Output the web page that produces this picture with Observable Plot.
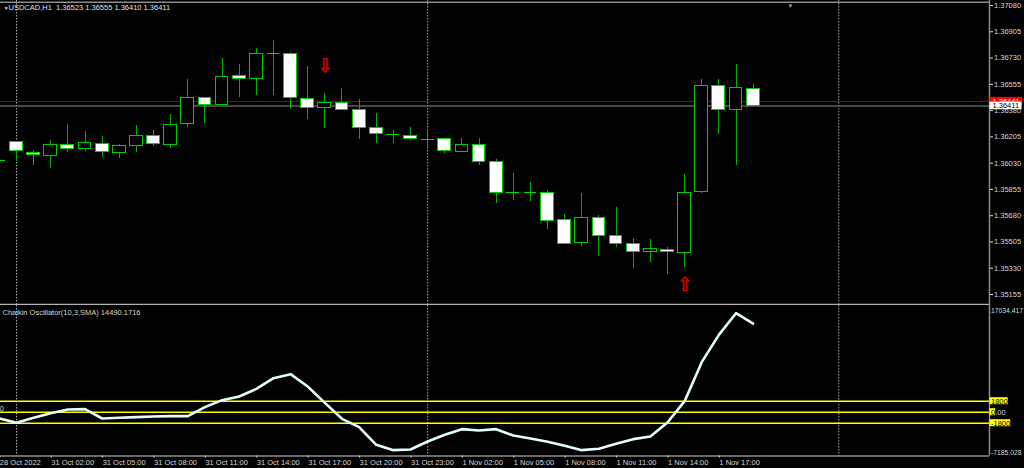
<!DOCTYPE html>
<html><head><meta charset="utf-8">
<script src="https://cdn.jsdelivr.net/npm/d3@7"></script>
<script src="https://cdn.jsdelivr.net/npm/@observablehq/plot@0.6"></script>
<style>
html,body{margin:0;padding:0;background:#000;}
#chart{position:relative;width:1024px;height:468px;background:#000;overflow:hidden;}
#chart svg{position:absolute;left:0;}
</style></head><body><div id="chart"></div>
<script>
// ---------- DATA ----------
const symbol = "USDCAD,H1";
// bar index: hours since 31 Oct 2022 00:00 (-1 = last bar of 28 Oct)
const bars = [-1,0,1,2,3,4,5,6,7,8,9,10,11,12,13,14,15,16,17,18,19,20,21,22,23,24,25,26,27,28,29,30,31,32,33,34,35,36,37,38,39,40,41,42,43];
const open  = [1.36048,1.36170,1.36099,1.36080,1.36153,1.36123,1.36159,1.36097,1.36143,1.36213,1.36148,1.36292,1.36466,1.36416,1.36612,1.36589,1.36758,1.36758,1.36459,1.36399,1.36432,1.36386,1.36263,1.36223,1.36213,1.36186,1.36193,1.36106,1.36153,1.36037,1.35833,1.35833,1.35833,1.35654,1.35500,1.35664,1.35547,1.35494,1.35441,1.35451,1.35434,1.35837,1.36545,1.36386,1.36523];
const high  = [1.36055,1.36172,1.36115,1.36179,1.36290,1.36241,1.36208,1.36155,1.36279,1.36248,1.36354,1.36585,1.36467,1.36725,1.36689,1.36796,1.36849,1.36765,1.36674,1.36492,1.36529,1.36454,1.36361,1.36248,1.36270,1.36253,1.36197,1.36193,1.36195,1.36053,1.35964,1.35900,1.35849,1.35689,1.35827,1.35680,1.35735,1.35527,1.35521,1.35467,1.35955,1.36585,1.36585,1.36685,1.36555];
const low   = [1.36040,1.36042,1.36015,1.35997,1.36099,1.36108,1.36070,1.36064,1.36103,1.36143,1.36130,1.36270,1.36292,1.36414,1.36469,1.36481,1.36481,1.36386,1.36321,1.36263,1.36384,1.36186,1.36159,1.36163,1.36181,1.36130,1.36097,1.36099,1.36017,1.35764,1.35782,1.35775,1.35589,1.35489,1.35478,1.35405,1.35465,1.35328,1.35365,1.35288,1.35332,1.35831,1.36221,1.36015,1.36410];
const close = [1.36048,1.36108,1.36082,1.36153,1.36126,1.36166,1.36101,1.36146,1.36208,1.36155,1.36286,1.36466,1.36419,1.36605,1.36592,1.36758,1.36758,1.36466,1.36399,1.36432,1.36386,1.36266,1.36223,1.36223,1.36190,1.36186,1.36113,1.36153,1.36037,1.35833,1.35833,1.35833,1.35647,1.35491,1.35667,1.35544,1.35494,1.35439,1.35456,1.35436,1.35833,1.36545,1.36386,1.36529,1.36411];
const chaikin = [-1031,-1739,-921,-158,442,496,-1031,-921,-813,-703,-649,-649,823,1968,2569,3823,5567,6222,4205,1533,-1085,-2449,-5339,-6212,-6102,-4793,-3703,-2776,-2994,-2776,-3812,-4303,-4848,-5502,-6212,-5993,-5175,-4412,-3975,-1685,1805,8185,12658,16201,14490.1716];
const oscName = "Chaikin Oscillator(10,3,SMA)";
const oscMax = 17034.417, oscMin = -7185.028;
const levels = [1800, 0, -1800];
const levelLabels = ["1800", "0", "-1800"];
const priceTicks = [1.37080,1.36905,1.36730,1.36555,1.36380,1.36205,1.36030,1.35855,1.35680,1.35505,1.35330,1.35155];
const timeTickBars = [-1,2,5,8,11,14,17,20,23,26,29,32,35,38,41];
const timeTickLabels = ["28 Oct 2022","31 Oct 02:00","31 Oct 05:00","31 Oct 08:00","31 Oct 11:00","31 Oct 14:00","31 Oct 17:00","31 Oct 20:00","31 Oct 23:00","1 Nov 02:00","1 Nov 05:00","1 Nov 08:00","1 Nov 11:00","1 Nov 14:00","1 Nov 17:00"];
const daySeparators = [0, 24, 48];
const bid = 1.36411, ask = 1.36441;
const arrowBars = [18, 39];
const arrowPrices = [1.36677, 1.35216];
const arrowGlyphs = ["\u21E9", "\u21E7"];
const shiftMarkerBar = 45.18;

// ---------- LAYOUT ----------
const W = 1024, H = 468, splitY = 305, axisPx = 989, barPx = 17.131, firstBarPx = 16;
const xDomain = [-firstBarPx / barPx, (axisPx - firstBarPx) / barPx];
const mR = W - axisPx;
const font = "'Liberation Sans', Arial, sans-serif";
const fs = 7.5;
const pxPerPrice = (294 - 5) / (priceTicks[0] - priceTicks[priceTicks.length - 1]);
const priceAtPx = px => priceTicks[0] - (px - 5) / pxPerPrice;
const priceDomain = [priceAtPx(splitY), priceAtPx(0)];
const oscH = H - splitY, oscTopPx = 2.6, oscBotPx = 150.6;
const oscPerPx = (oscMax - oscMin) / (oscBotPx - oscTopPx);
const oscDomain = [oscMin, oscMax + oscTopPx * oscPerPx];

const ctx = document.createElement("canvas").getContext("2d");
const textW = (s, size) => { ctx.font = `${size}px ${font}`; return ctx.measureText(s).width; };

const candles = bars.map((b, k) => ({i: b, o: open[k], h: high[k], l: low[k], c: close[k]}));
const bodies = candles.filter(d => d.o !== d.c);
const dojis = candles.filter(d => d.o === d.c);
const hw = 6.4 / barPx;
const lastBar = candles[candles.length - 1];
const titleText = `${symbol}\u00a0 ${lastBar.o.toFixed(5)} ${lastBar.h.toFixed(5)} ${lastBar.l.toFixed(5)} ${lastBar.c.toFixed(5)}`;
const arrows = arrowBars.map((b, k) => ({i: b, p: arrowPrices[k], g: arrowGlyphs[k]}));
const osc = bars.map((b, k) => ({i: b, v: chaikin[k]}));

const green = "#00b000", outline = "#00cc00", dojiColor = "#00e000", gray = "#8c8c8c", txt = "#d6d6d6";

const priceChart = Plot.plot({
  width: W, height: splitY,
  marginTop: 0, marginBottom: 0, marginLeft: 0, marginRight: mR,
  x: {domain: xDomain, axis: null},
  y: {domain: priceDomain},
  style: {background: "transparent", color: txt, fontFamily: font, fontSize: fs + "px"},
  marks: [
    Plot.ruleX(daySeparators, {x: d => d, stroke: "#a8a8a8", strokeDasharray: "1.5,1.5"}),
    Plot.ruleY([ask], {y: d => d, stroke: "#a00000", strokeWidth: 1}),
    Plot.ruleY([bid], {y: d => d, stroke: "#5e5e5e", strokeWidth: 1.5}),
    Plot.ruleX(candles, {x: "i", y1: "l", y2: "h", stroke: green, shapeRendering: "crispEdges"}),
    Plot.rect(bodies.filter(d => d.c < d.o), {x1: d => d.i - hw, x2: d => d.i + hw, y1: "o", y2: "c", fill: "#ffffff", stroke: outline, shapeRendering: "crispEdges"}),
    Plot.rect(bodies.filter(d => d.c > d.o), {x1: d => d.i - hw, x2: d => d.i + hw, y1: "o", y2: "c", fill: "#000000", stroke: outline, shapeRendering: "crispEdges"}),
    Plot.ruleY(dojis, {x1: d => d.i - hw, x2: d => d.i + hw, y: "o", stroke: dojiColor, shapeRendering: "crispEdges"}),
    Plot.text(arrows, {x: "i", y: "p", text: "g", fill: "#e00000", stroke: "#e00000", strokeWidth: 0.4, fontSize: 19, fontFamily: "DejaVu Sans"}),
    Plot.ruleY([priceAtPx(1.8)], {y: d => d, stroke: gray, strokeWidth: 1.5}),
    Plot.ruleY([priceAtPx(304.3)], {y: d => d, stroke: "#b4b4b4", strokeWidth: 2}),
    Plot.ruleX([xDomain[1]], {x: d => d, stroke: gray, strokeWidth: 1.5}),
    Plot.axisY({anchor: "right", ticks: priceTicks, tickFormat: d => d.toFixed(5), tickSize: 3, tickPadding: 1.5, label: null}),
    Plot.rect([ask], {x1: () => xDomain[1] + 0.5 / barPx, x2: d => xDomain[1] + (textW(d.toFixed(5), fs) + 6) / barPx, y1: d => d - 4 / pxPerPrice, y2: d => d + 4 / pxPerPrice, fill: "#ff0000"}),
    Plot.text([ask], {x: () => xDomain[1], y: d => d, text: d => d.toFixed(5), dx: 3, textAnchor: "start", fill: "#ffffff"}),
    Plot.rect([bid], {x1: () => xDomain[1] + 0.5 / barPx, x2: d => xDomain[1] + (textW(d.toFixed(5), fs) + 6) / barPx, y1: d => d - 3.8 / pxPerPrice, y2: d => d + 3.8 / pxPerPrice, fill: "#ffffff"}),
    Plot.text([bid], {x: () => xDomain[1], y: d => d, text: d => d.toFixed(5), dx: 3, textAnchor: "start", fill: "#000000"}),
    Plot.text(["\u25BC"], {frameAnchor: "top-left", dx: 3.3, dy: 5.7, fontSize: 5, fill: "#e0e0e0"}),
    Plot.text([titleText], {frameAnchor: "top-left", dx: 8, dy: 7, lineAnchor: "middle", textAnchor: "start", fill: "#e0e0e0"}),
    Plot.text(["\u25BC"], {x: () => shiftMarkerBar, frameAnchor: "top", dy: 3.2, fontSize: 6, fill: "#9aa8bc"})
  ]
});
priceChart.style.top = "0px";

const oscChart = Plot.plot({
  width: W, height: oscH,
  marginTop: 0, marginBottom: oscH - oscBotPx, marginLeft: 0, marginRight: mR,
  x: {domain: xDomain},
  y: {domain: oscDomain, axis: null},
  style: {background: "transparent", color: txt, fontFamily: font, fontSize: fs + "px"},
  marks: [
    Plot.ruleX(daySeparators, {x: d => d, stroke: "#a8a8a8", strokeDasharray: "1.5,1.5"}),
    Plot.ruleY(levels, {y: d => d, stroke: "#ffff00", strokeWidth: 1.6}),
    Plot.line(osc, {x: "i", y: "v", stroke: "#e4ffff", strokeWidth: 2.6, strokeLinejoin: "round"}),
    Plot.ruleY([oscMin], {y: d => d, stroke: gray, strokeWidth: 1.5}),
    Plot.ruleX([xDomain[1]], {x: d => d, stroke: gray, strokeWidth: 1.5}),
    Plot.axisX({anchor: "bottom", ticks: timeTickBars, tickFormat: d => timeTickLabels[timeTickBars.indexOf(d)], tickSize: 2, tickPadding: 1.5, textAnchor: "start", dx: 0.5, label: null}),
    Plot.text([oscMax], {x: () => xDomain[1], y: d => d, text: d => d.toFixed(3), dx: 1.5, dy: 3, textAnchor: "start", fontSize: 6.8}),
    Plot.text([oscMin], {x: () => xDomain[1], y: d => d, text: d => d.toFixed(3), dx: 1.5, dy: -3.3, textAnchor: "start", fontSize: 6.8}),
    Plot.text([0], {x: () => xDomain[1], y: d => d, text: d => d.toFixed(2), dx: 1.5, textAnchor: "start"}),
    Plot.rect(levels, {x1: () => xDomain[1] + 0.4 / barPx, x2: d => xDomain[1] + (textW(levelLabels[levels.indexOf(d)], fs) + 2) / barPx, y1: d => d - 3.5 * oscPerPx, y2: d => d + 3.5 * oscPerPx, fill: "#ffff00"}),
    Plot.text(levels, {x: () => xDomain[1], y: d => d, text: d => levelLabels[levels.indexOf(d)], dx: 1.5, textAnchor: "start", fill: "#000000"}),
    Plot.text([0], {x: () => xDomain[0], y: d => d, text: () => "0", dx: 3.5, dy: -3.7, textAnchor: "end"}),
    Plot.text([`${oscName} ${chaikin[chaikin.length - 1].toFixed(4)}`], {frameAnchor: "top-left", dx: 2, dy: 6.7, lineAnchor: "middle", textAnchor: "start"})
  ]
});
oscChart.style.top = splitY + "px";

const el = document.getElementById("chart");
el.appendChild(priceChart);
el.appendChild(oscChart);
</script>
</body></html>
